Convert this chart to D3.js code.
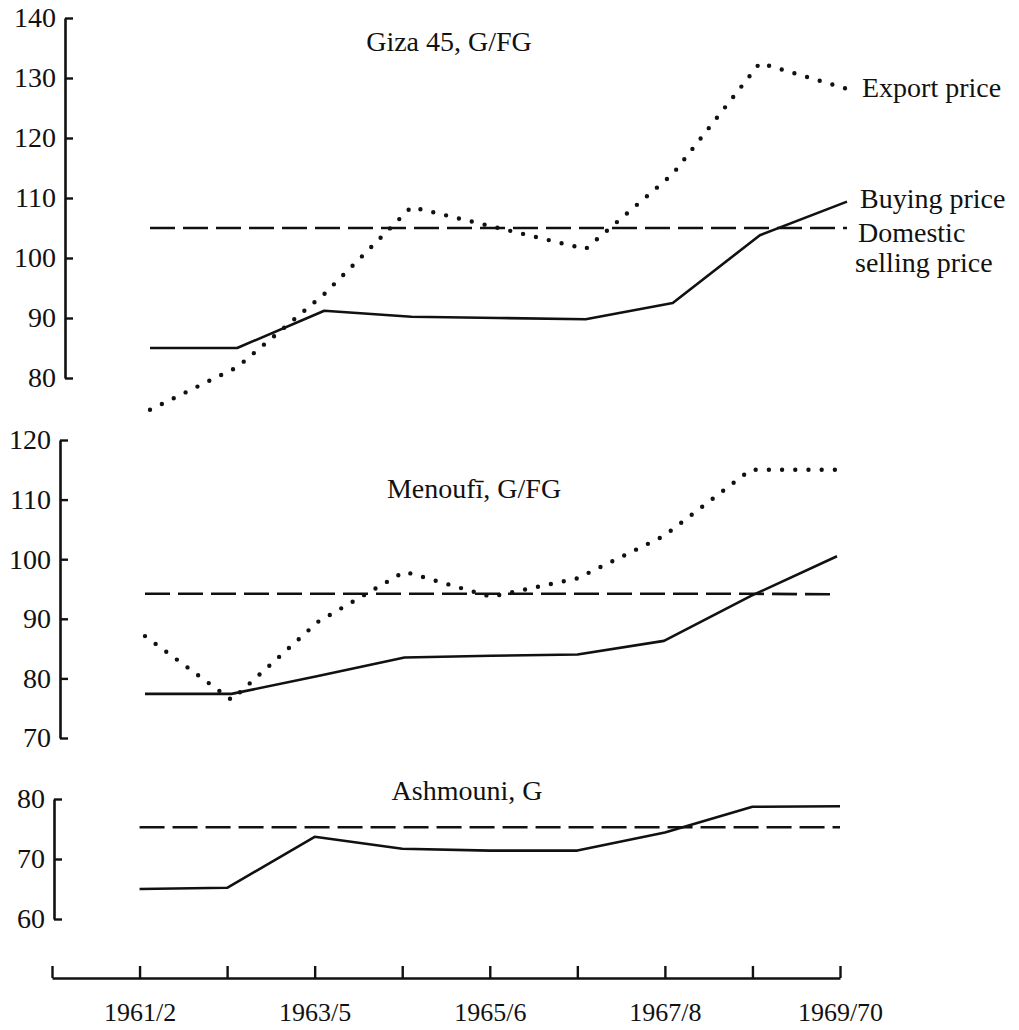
<!DOCTYPE html>
<html><head><meta charset="utf-8">
<script src="https://cdn.jsdelivr.net/npm/d3@7"></script>
<style>body{margin:0;background:#fff}svg{display:block}text{font-family:"Liberation Serif","DejaVu Serif",serif;fill:#111}</style>
</head>
<body><svg id="c" width="1019" height="1030"></svg>
<script>
// ---- data ----
const years = ["1961/2","1962/3","1963/4","1964/5","1965/6","1966/7","1967/8","1968/9","1969/70"];
const yearTickLabels = ["1961/2","","1963/5","","1965/6","","1967/8","","1969/70"];

const gizaTicks = [80,90,100,110,120,130,140];
const gizaBuying   = [85, 85, 91.2, 90.2, 90, 89.8, 92.5, 103.8, 109.4];
const gizaExport   = [74.7, 81.8, 94, 108.5, 105, 101.5, 114, 132.5, 128.2];
const gizaDomestic = [105, 105, 105, 105, 105, 105, 105, 105, 105];

const menoufiTicks = [70,80,90,100,110,120];
const menoufiBuying   = [77.4, 77.4, 80.4, 83.5, 83.8, 84, 86.3, 93.8, 100.5];
const menoufiExport   = [87.1, 76.4, 89.5, 97.9, 93.7, 96.8, 103.9, 115, 115];
const menoufiDomestic = [94.2, 94.2, 94.2, 94.2, 94.2, 94.2, 94.2, 94.2, 94.1];

const ashmouniTicks = [60,70,80];
const ashmouniBuying   = [65, 65.2, 73.7, 71.7, 71.4, 71.4, 74.4, 78.7, 78.8];
const ashmouniDomestic = [75.3, 75.3, 75.3, 75.3, 75.3, 75.3, 75.3, 75.3, 75.3];

const legendLabels = {exp:"Export price", buy:"Buying price", dom1:"Domestic", dom2:"selling price"};

// ---- drawing ----
const svg = d3.select("#c");
const FS = 28;      // titles, legend, y tick labels
const FSX = 26;     // x tick labels

// bottom x axis scale (with a leading blank slot)
const xAxisScale = d3.scalePoint().domain(["start", ...years]).range([52, 840]);

const panels = [
  {title:"Giza 45, G/FG", titleX:449, titleY:51, ticks:gizaTicks, dom:[80,140], rng:[378,18], ax:65,
   x:d3.scalePoint().domain(years).range([150,847]),
   buy:gizaBuying, exp:gizaExport, dmt:gizaDomestic, legend:true},
  {title:"Menoufī, G/FG", titleX:474, titleY:498, ticks:menoufiTicks, dom:[70,120], rng:[738,440], ax:60,
   x:d3.scalePoint().domain(years).range([145,837]),
   buy:menoufiBuying, exp:menoufiExport, dmt:menoufiDomestic},
  {title:"Ashmouni, G", titleX:467, titleY:800, ticks:ashmouniTicks, dom:[60,80], rng:[919,799], ax:54,
   x:xAxisScale,
   buy:ashmouniBuying, exp:null, dmt:ashmouniDomestic}
];

panels.forEach(p => {
  const y = d3.scaleLinear().domain(p.dom).range(p.rng);
  const g = svg.append("g");
  const axis = d3.axisLeft(y).tickValues(p.ticks).tickSizeInner(-8).tickSizeOuter(0).tickPadding(9).tickFormat(d3.format("d"));
  const ag = g.append("g").attr("transform", `translate(${p.ax},0)`).call(axis);
  ag.select(".domain").attr("stroke","#111").attr("stroke-width",2.6);
  ag.selectAll(".tick line").attr("stroke","#111").attr("stroke-width",2.4);
  ag.selectAll(".tick text").attr("font-size",FS).attr("font-family","Liberation Serif").attr("fill","#111");

  const line = arr => d3.line().x((d,i)=>p.x(years[i])).y(d=>y(d))(arr);

  g.append("path").attr("d", line(p.dmt)).attr("fill","none").attr("stroke","#111")
    .attr("stroke-width",2.6).attr("stroke-dasharray","25,8");
  g.append("path").attr("d", line(p.buy)).attr("fill","none").attr("stroke","#111")
    .attr("stroke-width",2.6).attr("stroke-linejoin","round");
  if (p.exp) {
    g.append("path").attr("d", line(p.exp)).attr("fill","none").attr("stroke","#111")
      .attr("stroke-width",4.4).attr("stroke-linecap","round").attr("stroke-dasharray","0,13.2");
  }
  g.append("text").attr("x",p.titleX).attr("y",p.titleY).attr("text-anchor","middle")
    .attr("font-size",FS).text(p.title);

  if (p.legend) {
    const lx = p.x(years[8]);
    g.append("text").attr("x", lx+15).attr("y", y(p.exp[8])+8).attr("font-size",FS).text(legendLabels.exp);
    g.append("text").attr("x", lx+13).attr("y", y(p.buy[8])+6).attr("font-size",FS).text(legendLabels.buy);
    g.append("text").attr("x", lx+11).attr("y", y(p.dmt[8])+14).attr("font-size",FS).text(legendLabels.dom1);
    g.append("text").attr("x", lx+8).attr("y", y(p.dmt[8])+44).attr("font-size",FS).text(legendLabels.dom2);
  }
});

// bottom time axis
const labelMap = {}; years.forEach((yr,i)=>labelMap[yr]=yearTickLabels[i]);
const xAxis = d3.axisBottom(xAxisScale).tickSizeInner(-12).tickSizeOuter(0).tickPadding(25)
  .tickFormat(d => labelMap[d] || "");
const xg = svg.append("g").attr("transform","translate(0,978)").call(xAxis);
xg.select(".domain").attr("stroke","#111").attr("stroke-width",2.6);
xg.selectAll(".tick line").attr("stroke","#111").attr("stroke-width",2.4);
xg.selectAll(".tick text").attr("font-size",FSX).attr("font-family","Liberation Serif").attr("fill","#111");
</script>
</body></html>
